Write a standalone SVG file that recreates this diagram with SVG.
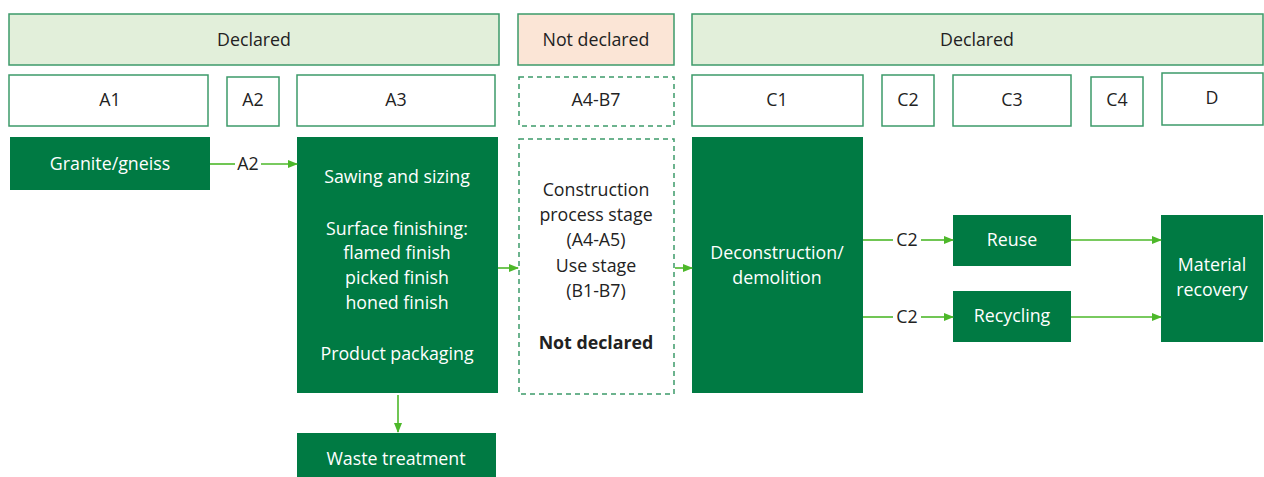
<svg xmlns="http://www.w3.org/2000/svg" width="1264" height="477" viewBox="0 0 1264 477">
<style>
.hdr{fill:#E2EFDA;stroke:#3D9A6A;stroke-width:1.5}
.nd{fill:#FBE5D6;stroke:#3D9A6A;stroke-width:1.5}
.mod{fill:#FFFFFF;stroke:#3D9A6A;stroke-width:1.5}
.dash{fill:#FFFFFF;stroke:#3D9A6A;stroke-width:1.5;stroke-dasharray:5,4}
.proc{fill:#007A43}
text{font-family:"Open Sans",Lato,sans-serif;font-size:17.8px;text-anchor:middle}
.dk{fill:#222222}
.wt{fill:#FFFFFF}
.b{font-weight:bold}
.ln{stroke:#4DB82A;stroke-width:1.6;fill:none}
</style>
<defs>
<marker id="ah" markerWidth="10" markerHeight="10" refX="9" refY="5" orient="auto" markerUnits="userSpaceOnUse">
<path d="M0,1 L10,5 L0,9 Z" fill="#4DB82A"/>
</marker>
</defs>
<g id="header-declared-left"><rect class="hdr" x="9" y="14" width="490" height="51"/><text class="dk" x="254" y="46">Declared</text></g>
<g id="header-not-declared"><rect class="nd" x="518" y="14" width="156" height="51"/><text class="dk" x="596" y="46">Not declared</text></g>
<g id="header-declared-right"><rect class="hdr" x="692" y="14" width="571" height="51"/><text class="dk" x="977" y="46">Declared</text></g>

<g id="mod-A1"><rect class="mod" x="9" y="75" width="199" height="51"/><text class="dk" x="110" y="106">A1</text></g>
<g id="mod-A2"><rect class="mod" x="227" y="77" width="52" height="49"/><text class="dk" x="253" y="106">A2</text></g>
<g id="mod-A3"><rect class="mod" x="297" y="75" width="198" height="51"/><text class="dk" x="396" y="106">A3</text></g>
<g id="mod-A4B7"><rect class="dash" x="519" y="77" width="155" height="49"/><text class="dk" x="596" y="106">A4-B7</text></g>
<g id="mod-C1"><rect class="mod" x="692" y="75" width="171" height="51"/><text class="dk" x="777" y="106">C1</text></g>
<g id="mod-C2"><rect class="mod" x="882" y="75" width="52" height="51"/><text class="dk" x="908" y="106">C2</text></g>
<g id="mod-C3"><rect class="mod" x="953" y="75" width="118" height="51"/><text class="dk" x="1012" y="106">C3</text></g>
<g id="mod-C4"><rect class="mod" x="1091" y="77" width="52" height="49"/><text class="dk" x="1117" y="106">C4</text></g>
<g id="mod-D"><rect class="mod" x="1162" y="73" width="101" height="52"/><text class="dk" x="1212" y="104">D</text></g>

<g id="node-granite"><rect class="proc" x="10" y="137" width="200" height="53"/><text class="wt" x="110" y="170">Granite/gneiss</text></g>
<g id="node-a3"><rect class="proc" x="297" y="137" width="201" height="256"/>
<text class="wt" x="397" y="183">Sawing and sizing</text>
<text class="wt" x="397" y="235">Surface finishing:</text>
<text class="wt" x="397" y="259">flamed finish</text>
<text class="wt" x="397" y="284">picked finish</text>
<text class="wt" x="397" y="309">honed finish</text>
<text class="wt" x="397" y="360">Product packaging</text></g>
<g id="node-waste"><rect class="proc" x="297" y="433" width="199" height="44"/><text class="wt" x="396" y="465">Waste treatment</text></g>
<g id="node-use"><rect class="dash" x="519" y="139" width="155" height="255"/>
<text class="dk" x="596" y="196">Construction</text>
<text class="dk" x="596" y="221">process stage</text>
<text class="dk" x="596" y="246">(A4-A5)</text>
<text class="dk" x="596" y="272">Use stage</text>
<text class="dk" x="596" y="297">(B1-B7)</text>
<text class="dk b" x="596" y="349">Not declared</text></g>
<g id="node-c1"><rect class="proc" x="692" y="137" width="171" height="256"/>
<text class="wt" x="777" y="259">Deconstruction/</text>
<text class="wt" x="777" y="284">demolition</text></g>
<g id="node-reuse"><rect class="proc" x="953" y="215" width="118" height="51"/><text class="wt" x="1012" y="246">Reuse</text></g>
<g id="node-recycling"><rect class="proc" x="953" y="291" width="118" height="51"/><text class="wt" x="1012" y="322">Recycling</text></g>
<g id="node-recovery"><rect class="proc" x="1161" y="215" width="102" height="127"/>
<text class="wt" x="1212" y="271">Material</text>
<text class="wt" x="1212" y="296">recovery</text></g>

<g id="connectors">
<line class="ln" x1="210" y1="164" x2="235" y2="164"/>
<line class="ln" x1="261" y1="164" x2="297" y2="164" marker-end="url(#ah)"/>
<text class="dk" x="248" y="170">A2</text>
<line class="ln" x1="498" y1="268" x2="518" y2="268" marker-end="url(#ah)"/>
<line class="ln" x1="675" y1="268" x2="692" y2="268" marker-end="url(#ah)"/>
<line class="ln" x1="398" y1="395" x2="398" y2="432" marker-end="url(#ah)"/>
<line class="ln" x1="863" y1="240" x2="893" y2="240"/>
<line class="ln" x1="921" y1="240" x2="953" y2="240" marker-end="url(#ah)"/>
<text class="dk" x="907" y="246">C2</text>
<line class="ln" x1="863" y1="317" x2="893" y2="317"/>
<line class="ln" x1="921" y1="317" x2="953" y2="317" marker-end="url(#ah)"/>
<text class="dk" x="907" y="323">C2</text>
<line class="ln" x1="1071" y1="240" x2="1161" y2="240" marker-end="url(#ah)"/>
<line class="ln" x1="1071" y1="317" x2="1161" y2="317" marker-end="url(#ah)"/>
</g>
</svg>
